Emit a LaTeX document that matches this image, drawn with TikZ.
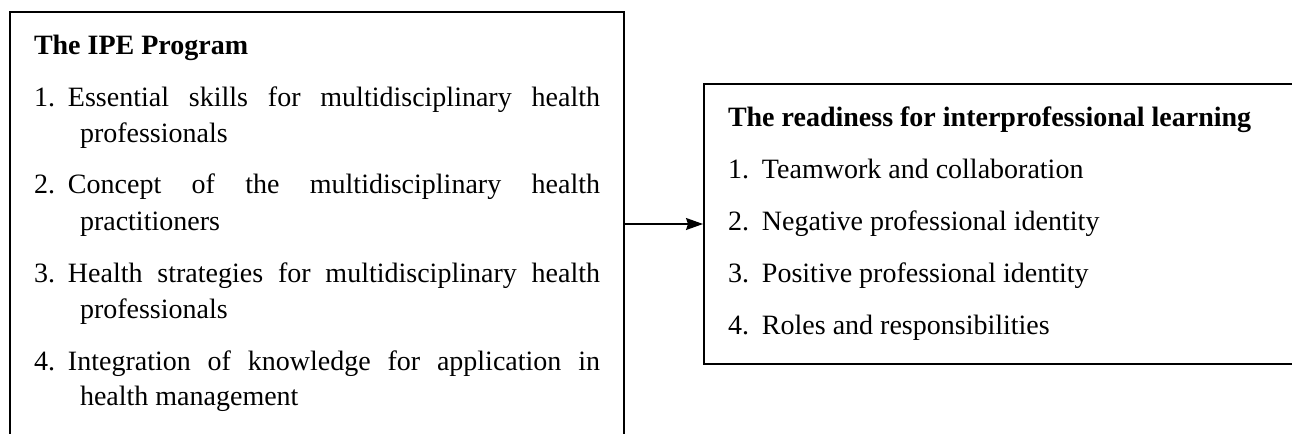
\documentclass[tikz,border=0pt]{standalone}
\usepackage{fontspec}
\setmainfont{Liberation Serif}
\usetikzlibrary{positioning,arrows.meta}

\hyphenpenalty=10000
\exhyphenpenalty=10000
\tolerance=10000

\tikzset{
  listbox/.style={draw, line width=1pt, inner xsep=12pt, inner ysep=0pt,
    text width=283pt, align=justify,
    font=\fontsize{14}{18}\selectfont\setlength{\parskip}{8pt}},
}
% first line of a box: the title, with the top gap
\newcommand{\boxtitle}[1]{\noindent\rule{0pt}{21pt}\textbf{#1}\par}
% numbered entry with hanging lines
\newcommand{\boxitem}[2]{\hangindent=23pt\hangafter=1\noindent\makebox[17pt][l]{#1}#2\par}
\newcommand{\boxfoot}{\rule[-15pt]{0pt}{15pt}}

\begin{document}
\begin{tikzpicture}[x=0.5pt,y=-0.5pt]
  \useasboundingbox (0,0) rectangle (1292,434);
  \clip (0,0) rectangle (1292,434);

  \node[listbox, anchor=north west] (ipe) at (9,11) {%
    \boxtitle{The IPE Program}
    \boxitem{1.}{Essential skills for multidisciplinary health professionals}
    \boxitem{2.}{Concept of the multidisciplinary health practitioners}
    \boxitem{3.}{Health strategies for multidisciplinary health professionals}
    \boxitem{4.}{Integration of knowledge for application in health management\boxfoot}};

  \node[listbox, right=39pt of ipe] (rfl) {%
    \boxtitle{The readiness for interprofessional learning}
    \boxitem{1.}{Teamwork and collaboration}
    \boxitem{2.}{Negative professional identity}
    \boxitem{3.}{Positive professional identity}
    \boxitem{4.}{Roles and responsibilities\boxfoot}};

  \draw[-{Stealth[length=8.5pt,width=6pt,inset=1pt]}, line width=0.75pt] (ipe) -- (rfl);
\end{tikzpicture}
\end{document}
